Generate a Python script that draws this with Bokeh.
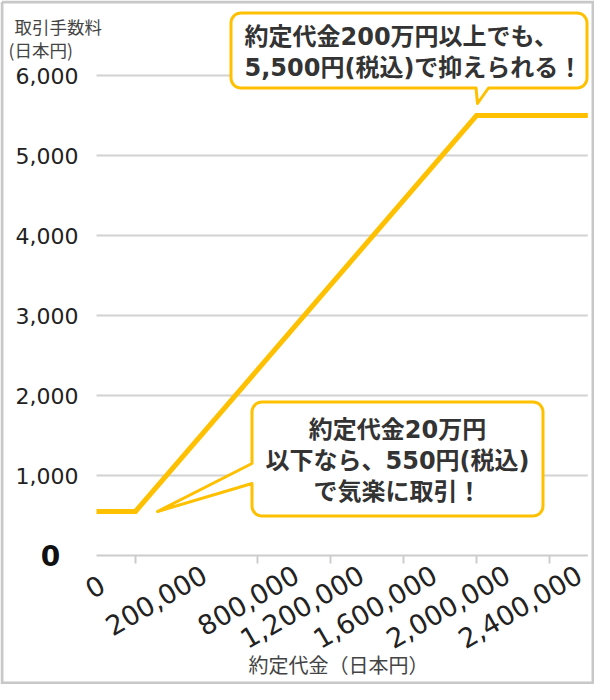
import math
import numpy as np
from bokeh.plotting import figure
from bokeh.models import Range1d
from bokeh.core.properties import value
from bokeh.embed import file_html
from bokeh.resources import INLINE

# ---------------- data ----------------
trade_amount = [0, 200000, 2000000, 2610000]      # 約定代金 (円)
fee = [550, 550, 5500, 5500]                        # 取引手数料 (円)

x_ticks = [0, 200000, 800000, 1200000, 1600000, 2000000, 2400000]
x_tick_labels = ["0", "200,000", "800,000", "1,200,000", "1,600,000", "2,000,000", "2,400,000"]
y_ticks = [1000, 2000, 3000, 4000, 5000, 6000]
y_tick_labels = ["1,000", "2,000", "3,000", "4,000", "5,000", "6,000"]
y_zero_label = "0"

y_title = ["取引手数料", "(日本円)"]
x_title = "約定代金（日本円）"
note_top = ["約定代金200万円以上でも、", "5,500円(税込)で抑えられる！"]
note_bottom = ["約定代金20万円", "以下なら、550円(税込)", "で気楽に取引！"]

# ---------------- style / layout ----------------
YELLOW = "#FFC000"
TEXT = "#333333"
GRID = "#d2d2d2"
AXIS = "#cccccc"
CJK = "Noto Sans CJK JP"
NUM = "DejaVu Sans"
MIX = "DejaVu Sans, Noto Sans CJK JP"

W, H = 594, 684
# the reference x axis is not uniform: piecewise scale (yen -> px from axis origin)
AXIS_YEN = [0, 200000, 800000, 2800000]
AXIS_PX = [0, 39, 161, 526]


def xpos(val):
    return np.interp(val, AXIS_YEN, AXIS_PX)


PX_PER_UNIT_Y = 0.08            # 80 px per 1,000 yen
ORIGIN_X, ORIGIN_Y = 96, 555    # canvas position of the (0, 0) point


def u(cx):   # canvas x -> data x
    return np.asarray(cx, dtype=float) - ORIGIN_X


def v(cy):   # canvas y -> data y
    return (ORIGIN_Y - np.asarray(cy, dtype=float)) / PX_PER_UNIT_Y


p = figure(width=W, height=H,
           x_range=Range1d(float(u(0)), float(u(W))),
           y_range=Range1d(float(v(H)), float(v(0))),
           x_axis_type=None, y_axis_type=None,
           output_backend="svg", toolbar_location=None, min_border=0)
p.outline_line_color = None
p.background_fill_color = "white"
p.border_fill_color = "white"

x_end = float(xpos(trade_amount[-1]))

# outer frame border
p.line(u([1.5, W - 1.5, W - 1.5, 1.5, 1.5]), v([1.5, 1.5, H - 1.5, H - 1.5, 1.5]),
       line_color="#c8c8c8", line_width=3, line_join="miter")

# horizontal grid lines
p.segment(x0=[0.0] * len(y_ticks), x1=[x_end] * len(y_ticks), y0=y_ticks, y1=y_ticks,
          line_color=GRID, line_width=2)

# x axis line and ticks
p.segment(x0=[0.0], x1=[x_end], y0=[0], y1=[0], line_color=AXIS, line_width=2)
tick_x = [float(xpos(t)) for t in x_ticks if t > 0]
TICK_LEN = 8 / PX_PER_UNIT_Y
p.segment(x0=tick_x, x1=tick_x, y0=[0] * len(tick_x), y1=[-TICK_LEN] * len(tick_x),
          line_color=AXIS, line_width=2)

# fee line
p.line(xpos(trade_amount), fee, line_color=YELLOW, line_width=5, line_join="miter")


# ---------------- callout bubbles ----------------
def bubble(x0, y0, x1, y1, r, side, b1, b2, tip, n=8):
    pts = []

    def arc(cx, cy, a0, a1):
        for k in range(n + 1):
            a = math.radians(a0 + (a1 - a0) * k / n)
            pts.append((cx + r * math.cos(a), cy + r * math.sin(a)))

    arc(x1 - r, y0 + r, -90, 0)
    arc(x1 - r, y1 - r, 0, 90)
    if side == "bottom":
        pts += [(b2, y1), tip, (b1, y1)]
    arc(x0 + r, y1 - r, 90, 180)
    if side == "left":
        pts += [(x0, b2), tip, (x0, b1)]
    arc(x0 + r, y0 + r, 180, 270)
    return u([a for a, _ in pts]), v([b for _, b in pts])


for spec in [
    (230.5, 12.5, 586.5, 87.5, 10, "bottom", 475.5, 488.0, (477.0, 103.0)),
    (251.5, 401.5, 542.5, 515.5, 10, "left", 463.0, 483.0, (157.0, 511.0)),
]:
    bx, by = bubble(*spec)
    p.patch(bx, by, fill_color="white", line_color=YELLOW, line_width=3, line_join="round")

# ---------------- texts ----------------
# y tick labels
p.text(x=[float(u(78))] * len(y_ticks), y=y_ticks, text=y_tick_labels,
       text_font=value(NUM), text_font_size="22px", text_color="#222222",
       text_align="right", text_baseline="middle")
# y zero label
p.text(x=[float(u(50))], y=[0], text=[y_zero_label], text_font=value(NUM),
       text_font_size="28px", text_font_style="bold", text_color="#111111",
       text_align="center", text_baseline="middle")

# y title
p.text(x=[float(u(14)), float(u(8))], y=list(v([26, 49])), text=y_title,
       text_font=value(CJK), text_font_size="17.5px", text_color="#444444",
       text_align="left", text_baseline="middle")

# rotated x tick labels (anchor = top-right corner, reference placement nudges in px)
nudge_x = [1, 64, 34, 26, 26, 26, 25]
anchor_y = [573, 563, 563, 563, 563, 563, 563]
p.text(x=[float(xpos(t)) + dx for t, dx in zip(x_ticks, nudge_x)], y=list(v(anchor_y)),
       text=x_tick_labels, angle=math.pi / 6, text_align="right", text_baseline="top",
       text_font=value(NUM), text_font_size="27px", text_color="#222222")

# x title
p.text(x=[float(u(338))], y=[float(v(664))], text=[x_title], text_font=value(CJK),
       text_font_size="20px", text_color="#444444", text_align="center",
       text_baseline="middle")

# callout texts
p.text(x=[float(u(244))] * len(note_top), y=list(v([36 + 31 * i for i in range(len(note_top))])),
       text=note_top, text_font=value(MIX), text_font_size="24px", text_font_style="bold",
       text_color=TEXT, text_align="left", text_baseline="middle")
p.text(x=[float(u(397))] * len(note_bottom),
       y=list(v([429 + 31 * i for i in range(len(note_bottom))])),
       text=note_bottom, text_font=value(MIX), text_font_size="24px", text_font_style="bold",
       text_color=TEXT, text_align="center", text_baseline="middle")

open("out.html", "w").write(file_html(p, INLINE))
